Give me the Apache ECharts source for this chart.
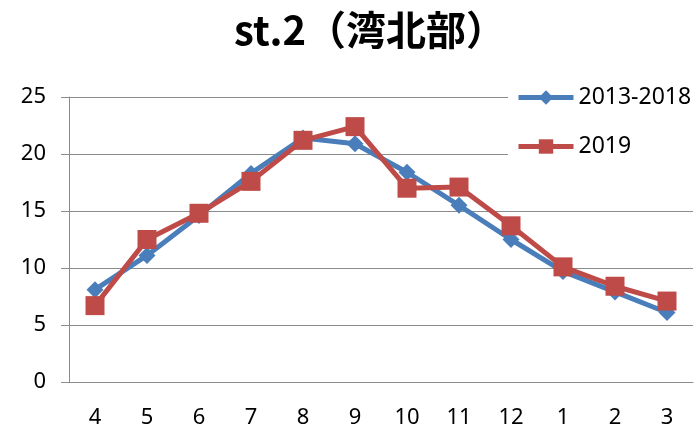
<!DOCTYPE html>
<html><head><meta charset="utf-8">
<script src="https://cdn.jsdelivr.net/npm/echarts@6/dist/echarts.min.js"></script>
<style>html,body{margin:0;padding:0;background:#fff}#c{width:699px;height:427px}</style>
</head><body><div id="c"></div>
<script>
const months = ['4','5','6','7','8','9','10','11','12','1','2','3'];
const avg2013_2018 = [8.1, 11.1, 14.6, 18.3, 21.4, 20.9, 18.4, 15.5, 12.5, 9.7, 7.9, 6.1];
const y2019 = [6.7, 12.5, 14.8, 17.6, 21.2, 22.4, 17.0, 17.1, 13.7, 10.1, 8.4, 7.1];
const yTicks = [0, 5, 10, 15, 20, 25];
const chart = echarts.init(document.getElementById('c'));
const font = '"Noto Sans", "Noto Sans CJK JP", sans-serif';
chart.setOption({
  animation: false,
  title: {
    text: 'st.2（湾北部）', left: 229, top: 5,
    textStyle: {fontFamily: '"Noto Sans CJK JP", sans-serif', fontWeight: 'bold', fontSize: 40, color: '#000'}
  },
  legend: {
    orient: 'vertical', left: 508, top: 82,
    itemWidth: 55, itemHeight: 18, itemGap: 26,
    backgroundColor: '#fff', padding: [4, 4, 4, 8],
    lineStyle: {width: 5},
    textStyle: {fontFamily: font, fontSize: 23, color: '#000'},
    data: ['2013-2018', '2019']
  },
  grid: {left: 69, right: 6, top: 97, bottom: 45, outerBoundsMode: 'none', containLabel: false},
  xAxis: {
    type: 'category', data: months, boundaryGap: true,
    axisLine: {lineStyle: {color: '#8c8c8c', width: 1}},
    axisTick: {length: 8, lineStyle: {color: '#8c8c8c'}},
    axisLabel: {fontFamily: font, fontSize: 22, color: '#000', margin: 25}
  },
  yAxis: {
    type: 'value', min: yTicks[0], max: yTicks[yTicks.length - 1], interval: 5,
    axisLine: {show: true, lineStyle: {color: '#8c8c8c'}},
    axisTick: {show: true, length: 8, lineStyle: {color: '#8c8c8c'}},
    splitLine: {lineStyle: {color: '#8c8c8c'}},
    axisLabel: {fontFamily: font, fontSize: 22, color: '#000', margin: 23}
  },
  series: [
    {name: '2013-2018', type: 'line', data: avg2013_2018,
     symbol: 'diamond', symbolSize: 17,
     lineStyle: {color: '#4A7EBB', width: 5},
     itemStyle: {color: '#4A7EBB'}},
    {name: '2019', type: 'line', data: y2019,
     symbol: 'rect', symbolSize: 19,
     lineStyle: {color: '#BE4B48', width: 5},
     itemStyle: {color: '#BE4B48'}}
  ]
});
</script></body></html>
